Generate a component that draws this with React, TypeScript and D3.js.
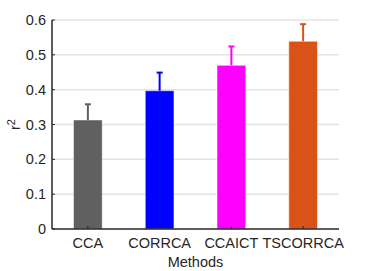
import React from "react";
import * as d3 from "d3";

const categories = ["CCA", "CORRCA", "CCAICT", "TSCORRCA"];
const means = [0.313, 0.397, 0.47, 0.539];
const errors = [0.045, 0.052, 0.054, 0.049];
const colors = ["#606060", "#0000ff", "#ff00ff", "#d95319"];
const yTicks = [0, 0.1, 0.2, 0.3, 0.4, 0.5, 0.6];

const W = 374;
const H = 271;
const left = 52;
const right = 339;
const top = 20;
const bottom = 229;
const font = "Liberation Sans, Arial, Helvetica, sans-serif";
const fs = 14.5;

export default function App() {
  const x = d3.scaleBand().domain(categories).range([left, right]).paddingInner(0.6).paddingOuter(0.3);
  const y = d3.scaleLinear().domain([0, 0.6]).range([bottom, top]);
  const bw = x.bandwidth();
  return (
    <svg width={W} height={H} style={{ position: "absolute", left: 0, top: 0, background: "#fff" }}>
      {yTicks.filter((t) => t > 0).map((t) => (
        <line key={"g" + t} x1={left} x2={right} y1={y(t)} y2={y(t)} stroke="#e3e3e3" strokeWidth={1.5} />
      ))}
      {categories.map((c, i) => {
        const cx = (x(c) as number) + bw / 2;
        const yt = y(means[i]);
        const ye = y(means[i] + errors[i]);
        return (
          <g key={c}>
            <rect x={x(c)} y={yt} width={bw} height={bottom - yt} fill={colors[i]} stroke="#ffffff" strokeOpacity={0.5} strokeWidth={1} />
            <line x1={cx} x2={cx} y1={yt} y2={ye} stroke={colors[i]} strokeWidth={2} />
            <line x1={cx - 3} x2={cx + 3} y1={ye} y2={ye} stroke={colors[i]} strokeWidth={2} />
            <line x1={cx} x2={cx} y1={bottom} y2={bottom - 3} stroke="#262626" strokeWidth={1} />
            <text x={cx} y={248} textAnchor="middle" fontFamily={font} fontSize={fs} fill="#262626">{c}</text>
          </g>
        );
      })}
      {yTicks.map((t) => (
        <g key={"t" + t}>
          <line x1={left} x2={left + 3} y1={y(t)} y2={y(t)} stroke="#262626" strokeWidth={1} />
          <text x={46} y={y(t) + 5} textAnchor="end" fontFamily={font} fontSize={fs} fill="#262626">{t}</text>
        </g>
      ))}
      <line x1={left} x2={left} y1={top} y2={bottom} stroke="#262626" strokeWidth={1.5} />
      <line x1={left} x2={right} y1={bottom} y2={bottom} stroke="#262626" strokeWidth={1.5} />
      <text x={(left + right) / 2} y={267} textAnchor="middle" fontFamily={font} fontSize={fs} fill="#262626">Methods</text>
      <text transform={`translate(20, ${(top + bottom) / 2}) rotate(-90)`} textAnchor="middle" fontFamily={font} fontSize={fs} fill="#262626">
        r<tspan dy={-5} fontSize={11}>2</tspan>
      </text>
    </svg>
  );
}
